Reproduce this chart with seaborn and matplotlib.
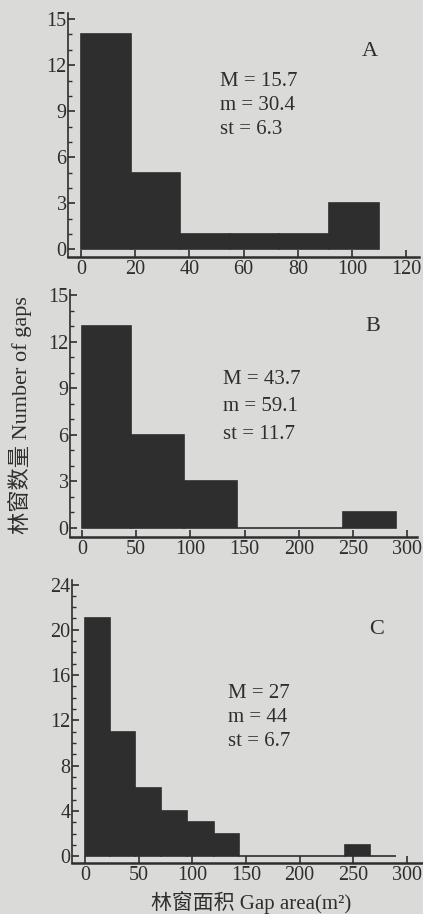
import numpy as np
import pandas as pd
import matplotlib
matplotlib.use("Agg")
import matplotlib.pyplot as plt
from matplotlib.ticker import MultipleLocator
import seaborn as sns

# bin edges (m2) and gap counts
a_edges = [0, 18.3, 36.6, 54.9, 73.2, 91.5, 109.8]
a_counts = [14, 5, 1, 1, 1, 3]
b_edges = [0, 45, 94, 143, 192, 241, 290]
b_counts = [13, 6, 3, 0, 0, 1]
c_edges = [0, 23, 47, 71, 95, 120, 144, 168, 193, 217, 242, 266, 290]
c_counts = [21, 11, 6, 4, 3, 2, 0, 0, 0, 0, 1, 0]

panel_labels = ["A", "B", "C"]
stats = [["M = 15.7", "m = 30.4", "st = 6.3"],
         ["M = 43.7", "m = 59.1", "st = 11.7"],
         ["M = 27", "m = 44", "st = 6.7"]]
x_ticks = [[0, 20, 40, 60, 80, 100, 120],
           [0, 50, 100, 150, 200, 250, 300],
           [0, 50, 100, 150, 200, 250, 300]]
y_ticks = [[0, 3, 6, 9, 12, 15],
           [0, 3, 6, 9, 12, 15],
           [0, 4, 8, 12, 16, 20, 24]]

sns.set_theme(style="ticks")
plt.rcParams['font.family'] = ['Liberation Serif', 'Noto Sans CJK SC']

bg = "#dadad8"
ink = "#2e2e2e"
W, H = 423, 914

fig = plt.figure(figsize=(W / 100, H / 100), dpi=100, facecolor=bg)

# axes boxes in pixels: left, top, right, bottom
boxes = [(68, 13, 419, 257), (70, 290, 417, 537), (72, 580, 422, 863)]
xlims = [(-4.8, 124.7), (-11, 309), (-12, 314)]
ylims = [(-0.5, 15.4), (-0.6, 15.35), (-0.6, 24.4)]
stat_pos = [(220, [82, 106, 130]), (223, [380, 407, 435]), (228, [693, 718, 742])]
letter_pos = [(370, 52), (373, 327), (377, 630)]

for i, (edges, counts) in enumerate([(a_edges, a_counts), (b_edges, b_counts), (c_edges, c_counts)]):
    l, t, r, b = boxes[i]
    ax = fig.add_axes([l / W, 1 - b / H, (r - l) / W, (b - t) / H])
    ax.set_facecolor(bg)
    e = np.array(edges)
    df = pd.DataFrame({"area": (e[:-1] + e[1:]) / 2, "n": counts})
    sns.histplot(data=df, x="area", weights="n", bins=edges, ax=ax,
                 color=ink, edgecolor=ink, linewidth=1.2, alpha=1)
    ax.set_xlim(*xlims[i])
    ax.set_ylim(*ylims[i])
    ax.set_xticks(x_ticks[i])
    ax.set_yticks(y_ticks[i])
    ax.yaxis.set_minor_locator(MultipleLocator(1))
    ax.set_xlabel("")
    ax.set_ylabel("")
    sns.despine(ax=ax)
    ax.spines['left'].set_linewidth(1.2)
    ax.spines['bottom'].set_linewidth(1.8)
    for s in ['left', 'bottom']:
        ax.spines[s].set_color(ink)
    ax.tick_params(axis='both', which='major', direction='in', length=5, width=1.2,
                   color=ink, labelcolor=ink, labelsize=14.5, pad=1)
    ax.tick_params(axis='y', which='minor', direction='in', length=3, width=1, color=ink)
    ax.tick_params(axis='x', pad=2)

    sx, sys_ = stat_pos[i]
    for txt, py in zip(stats[i], sys_):
        fig.text(sx / W, 1 - py / H, txt, fontsize=15, color=ink, va='center', ha='left')
    lx, ly = letter_pos[i]
    fig.text(lx / W, 1 - ly / H, panel_labels[i], fontsize=16, color=ink, va='center', ha='center')

fig.text(20 / W, 1 - 415 / H, "林窗数量 Number of gaps", rotation=90, fontsize=16,
         color=ink, va='center', ha='center')
fig.text(251 / W, 1 - 903 / H, "林窗面积 Gap area(m²)", fontsize=15,
         color=ink, va='center', ha='center')

fig.savefig("out.png", dpi=100, facecolor=bg)
